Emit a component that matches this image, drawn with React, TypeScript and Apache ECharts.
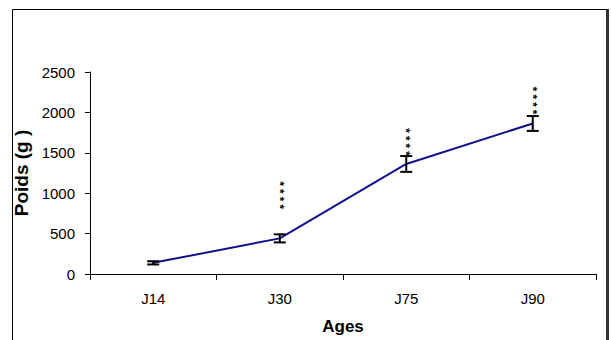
import React, { useEffect, useRef } from 'react';
import * as echarts from 'echarts';

const categories = ['J14', 'J30', 'J75', 'J90'];
const means = [138, 441, 1362, 1863];
const errors = [20, 50, 98, 92];
const starCategories = [1, 2, 3];
const starLevels = [976, 1634, 2146];
const starText = '* * * *';
const yMin = 0;
const yMax = 2500;
const yInterval = 500;

const FONT = '"Liberation Sans", Arial, sans-serif';

export default function App() {
  const ref = useRef<HTMLDivElement>(null);

  useEffect(() => {
    if (!ref.current) return;
    const chart = echarts.init(ref.current, undefined, { renderer: 'svg' });
    const errData = categories.map((_, i) => [i, means[i] - errors[i], means[i] + errors[i]]);
    const starData = starCategories.map((c, i) => [c, starLevels[i]]);

    chart.setOption({
      animation: false,
      backgroundColor: '#fff',
      textStyle: { fontFamily: FONT },
      grid: { left: 90, right: 15, top: 72, bottom: 63 },
      xAxis: {
        type: 'category',
        data: categories,
        boundaryGap: true,
        axisLine: { lineStyle: { color: '#000', width: 1 } },
        axisTick: { show: true, length: 6, lineStyle: { color: '#000' } },
        axisLabel: { color: '#000', fontSize: 15, margin: 17, fontFamily: FONT },
        name: 'Ages',
        nameLocation: 'middle',
        nameGap: 44,
        nameTextStyle: { color: '#000', fontSize: 17, fontWeight: 'bold', fontFamily: FONT },
        splitLine: { show: false },
      },
      yAxis: {
        type: 'value',
        min: yMin,
        max: yMax,
        interval: yInterval,
        axisLine: { show: true, lineStyle: { color: '#000', width: 1 } },
        axisTick: { show: true, length: 5, lineStyle: { color: '#000' } },
        axisLabel: {
          color: '#000',
          fontSize: 15,
          margin: 15,
          fontFamily: FONT,
          formatter: (v: number) => String(v),
        },
        splitLine: { show: false },
        name: 'Poids (g )',
        nameLocation: 'middle',
        nameRotate: 90,
        nameGap: 45,
        nameTextStyle: { color: '#000', fontSize: 19, fontWeight: 'bold', fontFamily: FONT },
      },
      graphic: [
        {
          type: 'rect',
          silent: true,
          shape: { x: 12.5, y: 9.5, width: 594, height: 400 },
          style: { fill: 'none', stroke: '#000', lineWidth: 1 },
        },
        {
          type: 'line',
          silent: true,
          shape: { x1: 607.5, y1: 9, x2: 607.5, y2: 340 },
          style: { stroke: '#333', lineWidth: 3 },
        },
      ],
      series: [
        {
          type: 'line',
          data: means,
          symbol: 'none',
          lineStyle: { color: '#10108c', width: 2 },
          z: 2,
        },
        {
          type: 'custom',
          data: errData,
          z: 3,
          renderItem: (params: any, api: any) => {
            const x = api.value(0);
            const lo = api.coord([x, api.value(1)]);
            const hi = api.coord([x, api.value(2)]);
            const hw = 6;
            const style = { stroke: '#000', lineWidth: 2 };
            return {
              type: 'group',
              children: [
                { type: 'line', shape: { x1: lo[0], y1: lo[1], x2: hi[0], y2: hi[1] }, style },
                { type: 'line', shape: { x1: lo[0] - hw, y1: lo[1], x2: lo[0] + hw, y2: lo[1] }, style },
                { type: 'line', shape: { x1: hi[0] - hw, y1: hi[1], x2: hi[0] + hw, y2: hi[1] }, style },
              ],
            };
          },
        },
        {
          type: 'custom',
          data: starData,
          z: 4,
          renderItem: (params: any, api: any) => {
            const p = api.coord([api.value(0), api.value(1)]);
            return {
              type: 'text',
              x: p[0],
              y: p[1],
              rotation: -Math.PI / 2,
              style: {
                text: starText,
                fontSize: 11.5,
                fontFamily: FONT,
                fill: '#000',
                stroke: '#000',
                lineWidth: 0.4,
                align: 'center',
                verticalAlign: 'middle',
              },
            };
          },
        },
      ],
    });
    return () => chart.dispose();
  }, []);

  return (
    <div
      ref={ref}
      style={{ position: 'absolute', left: 0, top: 0, width: 611, height: 340 }}
    />
  );
}
